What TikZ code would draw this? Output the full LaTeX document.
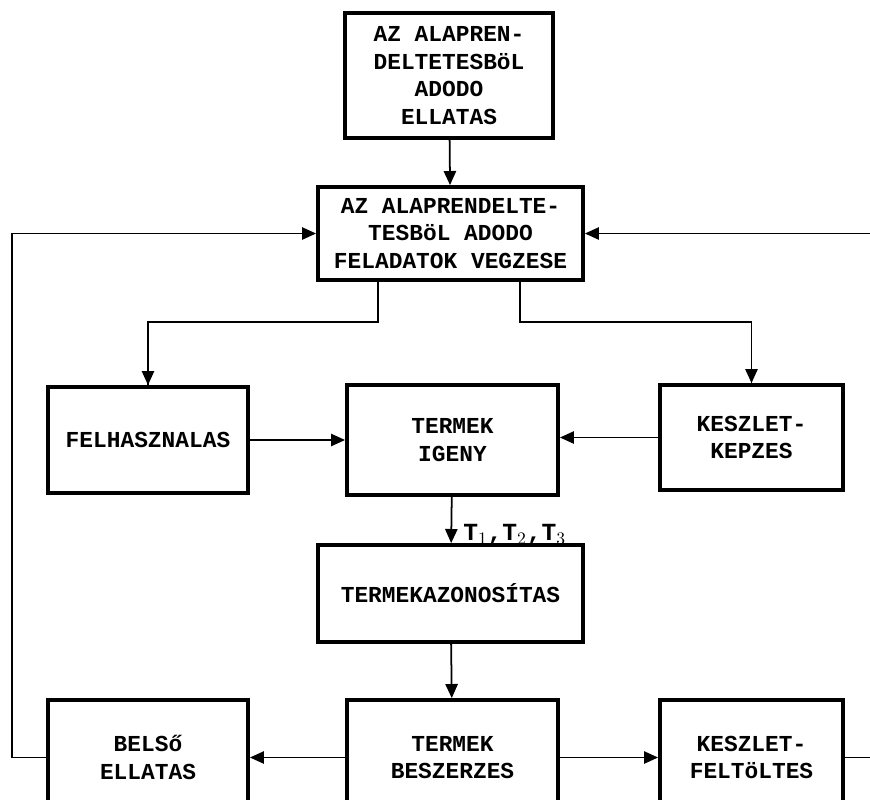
\documentclass[tikz,border=0pt]{standalone}
\usepackage{fontspec}
\setmonofont{Liberation Mono}
\usetikzlibrary{arrows.meta}

\begin{document}
\begin{tikzpicture}[
    box/.style={draw, line width=2.2pt, align=center, inner sep=0pt,
        font=\ttfamily\bfseries\fontsize{13}{15.8}\selectfont},
    flow/.style={line width=1pt, -{Triangle[length=8pt,width=7pt]}},
    line/.style={line width=1pt}]
  \useasboundingbox (0,0) rectangle (17.4,-15.98);
  % upper part
  \node[box, minimum width=4.16cm, minimum height=2.5cm] (ellatas) at (8.98,-1.51) {AZ ALAPREN-\\DELTETESBöL\\ADODO\\ELLATAS};
  \node[box, minimum width=5.3cm, minimum height=1.86cm] (feladat) at (9.01,-4.67) {AZ ALAPRENDELTE-\\TESBöL ADODO\\FELADATOK VEGZESE};
  % middle row
  \node[box, minimum width=4cm, minimum height=2.12cm] (felh) at (2.96,-8.8) {FELHASZNALAS};
  \node[box, minimum width=4.22cm, minimum height=2.2cm] (igeny) at (9.05,-8.8) {TERMEK\\IGENY};
  \node[box, minimum width=3.66cm, minimum height=2.1cm] (kepzes) at (15.03,-8.75) {KESZLET-\\KEPZES};
  \node[box, minimum width=5.3cm, minimum height=1.94cm] (azon) at (9.01,-11.87) {TERMEKAZONOSÍTAS};
  % bottom row
  \node[box, minimum width=4cm, minimum height=2.3cm] (belso) at (2.96,-15.15) {BELSő\\ELLATAS};
  \node[box, minimum width=4.22cm, minimum height=2.3cm] (beszerz) at (9.05,-15.15) {TERMEK\\BESZERZES};
  \node[box, minimum width=3.66cm, minimum height=2.3cm] (feltolt) at (15.03,-15.15) {KESZLET-\\FELTöLTES};

  \coordinate (bal) at (0.24,-15.15);
  \coordinate (jobbalso) at (17.5,-15.15);
  \coordinate (jobbfelso) at (17.5,-4.67);

  \draw[flow] (ellatas) -- (feladat);
  \draw[line] ([xshift=-1.45cm]feladat.south) -- ++(0,-0.8) -| (felh.north) coordinate[pos=0.75] (f1);
  \draw[flow] (f1) -- (felh.north);
  \draw[line] ([xshift=1.39cm]feladat.south) -- ++(0,-0.8) -| (kepzes.north) coordinate[pos=0.75] (k1);
  \draw[flow] (k1) -- (kepzes.north);
  \draw[flow] (felh.east) -- (felh.east -| igeny.west);
  \draw[flow] (kepzes.west) -- (kepzes.west -| igeny.east);
  \draw[flow] (igeny) -- (azon) node[pos=0.82, right=3pt, font=\ttfamily\bfseries\fontsize{14}{15}\selectfont] {T$_1$,T$_2$,T$_3$};
  \draw[flow] (azon) -- (beszerz);
  \draw[flow] (beszerz.west) -- (beszerz.west -| belso.east);
  \draw[flow] (beszerz.east) -- (beszerz.east -| feltolt.west);
  \draw[line] (feltolt.east) -- (jobbalso);
  \draw[flow] (jobbfelso) -- (feladat.east);
  \draw[flow] (belso.west) -- (bal) |- (feladat.west);
\end{tikzpicture}
\end{document}
